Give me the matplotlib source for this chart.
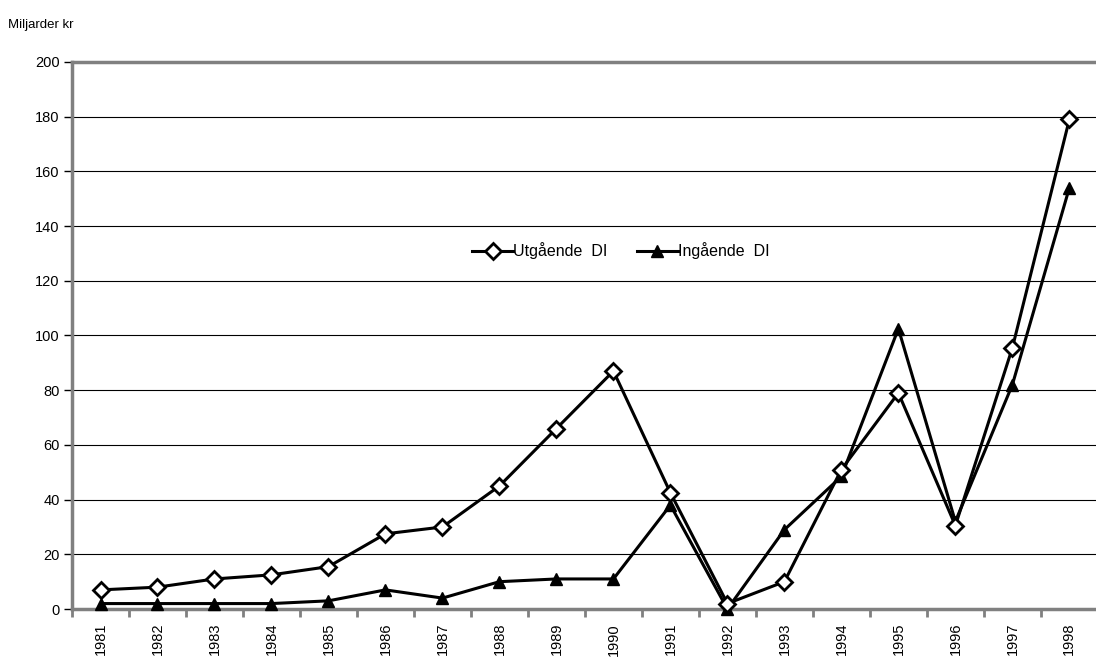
import matplotlib
matplotlib.use("Agg")
import matplotlib.pyplot as plt
import numpy as np

plt.rcParams["font.family"] = ["Liberation Sans", "DejaVu Sans"]

years = [str(y) for y in range(1981, 1999)]
utgaende = [7, 8, 11, 12.5, 15.5, 27.5, 30, 45, 66, 87, 42.5, 2, 10, 51, 79, 30.5, 95.5, 179]
ingaende = [2, 2, 2, 2, 3, 7, 4, 10, 11, 11, 38, 0, 29, 48.5, 102.5, 32, 82, 154]
yticks = list(range(0, 201, 20))

fig = plt.figure(figsize=(10.96, 6.57), dpi=100)
ax = fig.add_axes([0.0657, 0.073, 0.936, 0.8327])

x = np.arange(len(years))
ax.plot(x, utgaende, color="black", lw=2.2, marker="D", markersize=8,
        markerfacecolor="white", markeredgecolor="black", markeredgewidth=2,
        label="Utgående  DI", zorder=4, clip_on=False)
ax.plot(x, ingaende, color="black", lw=2.2, marker="^", markersize=8.5,
        markerfacecolor="black", markeredgecolor="black",
        label="Ingående  DI", zorder=3, clip_on=False)

ax.set_xlim(-0.5, len(years) - 0.5)
ax.set_ylim(0, 200)
ax.set_yticks(yticks)
ax.set_yticklabels([str(v) for v in yticks], fontsize=10.5)
ax.yaxis.grid(True, color="black", lw=0.8)
ax.set_axisbelow(True)

ax.set_xticks(x)
ax.set_xticklabels(years, rotation=90, fontsize=10.5)
ax.set_xticks(np.arange(-0.5, len(years), 1), minor=True)
ax.tick_params(axis="x", which="major", length=0, pad=10)
ax.tick_params(axis="x", which="minor", length=6, color="#808080", width=2)
ax.tick_params(axis="y", length=6, color="black", width=1, pad=3)

for side in ["left", "top", "bottom"]:
    ax.spines[side].set_color("#808080")
    ax.spines[side].set_linewidth(2.5)
ax.spines["right"].set_visible(False)

ax.legend(loc="center", bbox_to_anchor=(0.535, 0.655), ncol=2, frameon=False,
          fontsize=11.5, handlelength=2.6, handletextpad=0.0, columnspacing=1.8)

fig.text(0.007, 0.962, "Miljarder kr", fontsize=9.5, ha="left", va="center")

fig.savefig("out.png", dpi=100)
